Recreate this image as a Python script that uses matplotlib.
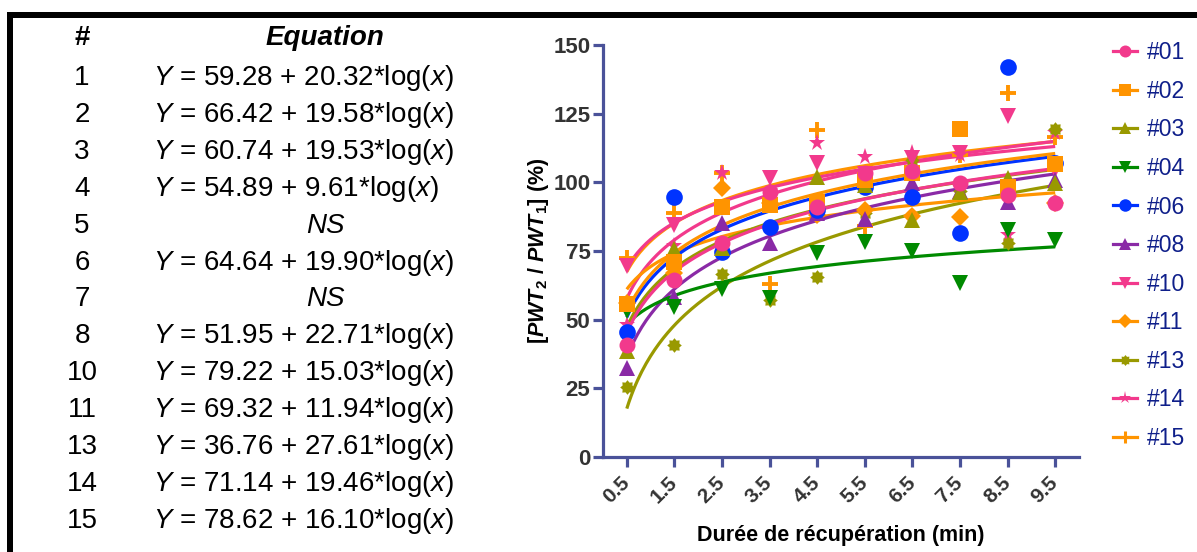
import numpy as np
import matplotlib.pyplot as plt
from matplotlib.lines import Line2D
from matplotlib.patches import Rectangle

# =========================
# DATA
# =========================

x = [0.5, 1.5, 2.5, 3.5, 4.5, 5.5, 6.5, 7.5, 8.5, 9.5]
xticklabels = ["0.5", "1.5", "2.5", "3.5", "4.5", "5.5", "6.5", "7.5", "8.5", "9.5"]

labels = ["#01", "#02", "#03", "#04", "#06", "#08", "#10", "#11", "#13", "#14", "#15"]

s01 = [40.8, 64.4, 77.8, 96.5, 90.9, 103.3, 104.0, 99.6, 95.4, 92.6]
s02 = [55.6, 71.1, 90.9, 91.7, 92.9, 100.8, 103.5, 119.3, 98.4, 106.5]
s03 = [38.5, 75.6, 76.0, 93.0, 101.8, 99.0, 86.3, 96.6, 101.7, 99.6]
s04 = [53.0, 54.7, 61.0, 57.8, 74.4, 78.4, 75.1, 63.5, 82.6, 79.0]
s06 = [45.4, 94.5, 74.7, 83.8, 89.9, 98.2, 94.5, 81.4, 142.1, 106.9]
s08 = [32.3, 58.4, 85.1, 77.8, 88.7, 86.5, 99.6, 97.0, 92.9, 100.8]
s10 = [69.5, 84.5, 91.0, 101.5, 106.9, 103.0, 109.0, 110.5, 124.1, 104.5]
s11 = [56.0, 67.1, 98.0, 92.5, 88.0, 89.9, 87.7, 87.5, 95.0, 92.5]
s13 = [25.6, 40.8, 66.6, 57.0, 65.4, 89.0, 108.1, 97.0, 78.0, 119.3]
s14 = [48.0, 77.0, 103.3, 97.0, 114.4, 109.1, 110.5, 110.0, 80.8, 118.0]
s15 = [72.3, 88.9, 103.5, 63.0, 119.0, 84.0, 104.0, 110.0, 132.4, 116.4]
series = [s01, s02, s03, s04, s06, s08, s10, s11, s13, s14, s15]

# fitted model Y = a + b*ln(x)
fit_a = [59.28, 66.42, 60.74, 54.89, 64.64, 51.95, 79.22, 69.32, 36.76, 71.14, 78.62]
fit_b = [20.32, 19.58, 19.53, 9.61, 19.90, 22.71, 15.03, 11.94, 27.61, 19.46, 16.10]

# table on the left
tab_ids = ["1", "2", "3", "4", "5", "6", "7", "8", "10", "11", "13", "14", "15"]
tab_a = ["59.28", "66.42", "60.74", "54.89", None, "64.64", None,
         "51.95", "79.22", "69.32", "36.76", "71.14", "78.62"]
tab_b = ["20.32", "19.58", "19.53", "9.61", None, "19.90", None,
         "22.71", "15.03", "11.94", "27.61", "19.46", "16.10"]

# =========================
# STYLE
# =========================

PINK = "#F2398C"
ORANGE = "#FF9400"
OLIVE = "#999900"
GREEN = "#008A00"
BLUE = "#0033FF"
PURPLE = "#8A2AA6"
AXCOL = "#4A5299"

# gear-like asterisk marker used for #13
ang = np.linspace(0, 2 * np.pi, 17)[:-1]
rad = np.where(np.arange(16) % 2 == 0, 1.0, 0.72)
gear = list(zip(rad * np.sin(ang), rad * np.cos(ang)))

colors = [PINK, ORANGE, OLIVE, GREEN, BLUE, PURPLE, PINK, ORANGE, OLIVE, PINK, ORANGE]
markers = ["o", "s", "^", "v", "o", "^", "v", "D", gear, "*", "+"]
msizes = [11.5, 11, 11.5, 11.5, 12, 11.5, 12, 9.5, 10.5, 12.5, 12]

plt.rcParams["font.family"] = ["Liberation Sans", "DejaVu Sans"]
plt.rcParams["mathtext.fontset"] = "custom"
plt.rcParams["mathtext.rm"] = "Liberation Sans"
plt.rcParams["mathtext.it"] = "Liberation Sans:italic"
plt.rcParams["mathtext.bf"] = "Liberation Sans:bold"
plt.rcParams["mathtext.bfit"] = "Liberation Sans:bold:italic"

W, H = 1197, 552
fig = plt.figure(figsize=(W / 100, H / 100), dpi=100)

# frame (top and left)
fig.add_artist(Rectangle((7 / W, 1 - 18 / H), 1, 6 / H, transform=fig.transFigure,
                         color="black", lw=0))
fig.add_artist(Rectangle((7 / W, 0), 6 / W, 1 - 12 / H, transform=fig.transFigure,
                         color="black", lw=0))

# =========================
# TABLE
# =========================

def fy(py):
    return 1 - py / H

fs_tab = 20
fig.text(82 / W, fy(38), "#", ha="center", va="center", fontsize=fs_tab, fontweight="bold")
fig.text(325 / W, fy(38), "Equation", ha="center", va="center", fontsize=fs_tab,
         fontweight="bold", style="italic")
for i, rid in enumerate(tab_ids):
    yy = fy(78 + i * 36.9)
    fig.text(82 / W, yy, rid, ha="center", va="center", fontsize=fs_tab)
    if tab_a[i] is None:
        fig.text(325 / W, yy, "NS", ha="center", va="center", fontsize=fs_tab, style="italic")
    else:
        fig.text(153 / W, yy, r"$\mathit{Y}$ = " + tab_a[i] + " + " + tab_b[i] + r"*log($\mathit{x}$)",
                 ha="left", va="center", fontsize=fs_tab)

# =========================
# CHART
# =========================

ax = fig.add_axes([603 / W, 1 - 457 / H, 476 / W, 412 / H])

xx = np.linspace(0.5, 9.5, 200)
n = len(series)
for i in range(n):
    ax.plot(xx, fit_a[i] + fit_b[i] * np.log(xx), color=colors[i], lw=2.3,
            zorder=2 + (n - i) * 0.01, solid_capstyle="butt")
for i in range(n):
    mew = 2.8 if markers[i] == "+" else 0
    ax.plot(x, series[i], ls="none", marker=markers[i], ms=msizes[i], color=colors[i],
            mew=mew, mec=colors[i], zorder=3 + (n - i) * 0.01)

ax.set_xlim(0, 10)
ax.set_ylim(0, 150)
ax.set_xticks(x)
ax.set_xticklabels(xticklabels, rotation=45, ha="right", va="center",
                   rotation_mode="anchor", fontsize=15, fontweight="bold", color="#333333")
ax.set_yticks([0, 25, 50, 75, 100, 125, 150])
ax.set_yticklabels(["0", "25", "50", "75", "100", "125", "150"], fontsize=16,
                   fontweight="bold", color="#333333")
ax.tick_params(axis="both", direction="out", length=7, width=2.3, color=AXCOL)
ax.tick_params(axis="x", pad=9)
ax.tick_params(axis="y", pad=2)
for side in ["top", "right"]:
    ax.spines[side].set_visible(False)
for side in ["left", "bottom"]:
    ax.spines[side].set_color(AXCOL)
    ax.spines[side].set_linewidth(2.3)

ax.set_xlabel("Durée de récupération (min)", fontsize=15.5, fontweight="bold", labelpad=13)
ax.set_ylabel(r"[$\mathbfit{PWT}_{\mathbf{2}}$ / $\mathbfit{PWT}_{\mathbf{1}}$] (%)",
              fontsize=15.5, fontweight="bold", labelpad=2)

handles = [Line2D([], [], color=colors[i], marker=markers[i], ms=msizes[i] * 0.75,
                  lw=2.3, mew=2.2 if markers[i] == "+" else 0) for i in range(n)]
leg = ax.legend(handles, labels, loc="upper left", bbox_to_anchor=(1104 / W, fy(32)),
                bbox_transform=fig.transFigure, frameon=False, fontsize=16.5,
                handlelength=1.05, handletextpad=0.4, labelspacing=0.68, borderaxespad=0)
for t in leg.get_texts():
    t.set_color("#0F1F8A")

fig.savefig("out.png", dpi=100)
